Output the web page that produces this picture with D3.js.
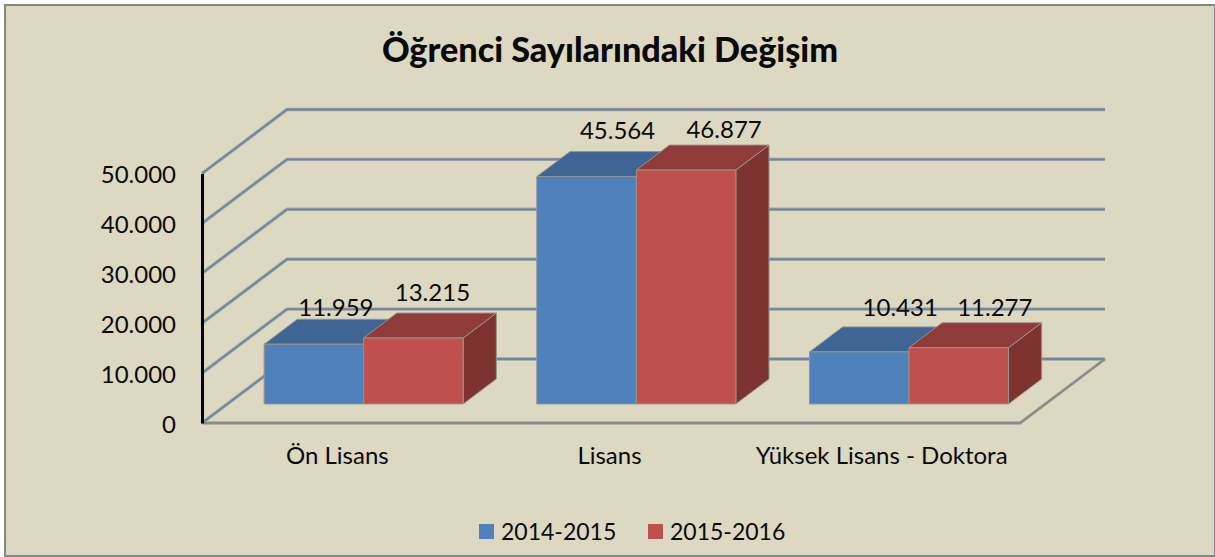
<!DOCTYPE html>
<html lang="tr">
<head>
  <meta charset="UTF-8">
  <title>Öğrenci Sayılarındaki Değişim</title>
  <script src="https://d3js.org/d3.v7.min.js"></script>
  <style>
    body {
      background: #fff;
      margin: 0;
    }
    svg {
      display: block;
    }
    text {
      font-family: Lato, 'Noto Sans', sans-serif;
      fill: #0a0a0a;
    }
  </style>
</head>
<body>
  <script>
    var categories = ["Ön Lisans", "Lisans", "Yüksek Lisans - Doktora"];
    var seriesNames = ["2014-2015", "2015-2016"];
    var values2014 = [11959, 45564, 10431];
    var values2015 = [13215, 46877, 11277];
    var yTicks = [0, 10000, 20000, 30000, 40000, 50000];

    // the value labels were placed by hand in the original, so each one gets a nudge
    var labelNudge = [
      [[22, -37], [19, -45]],
      [[31, -46], [38, -40]],
      [[41, -44], [36, -40]]
    ];
    var catNudge = [-1, -1.5, -2];

    var width = 1215, height = 557;

    var colors = [
      { front: "#4f81bd", top: "#3e6594", side: "#335479" },
      { front: "#c0504d", top: "#8f3b39", side: "#7f3331" }
    ];

    var fmt = d3.formatLocale({ decimal: ",", thousands: ".", grouping: [3], currency: ["", ""] }).format(",");

    var x0 = d3.scaleBand().domain(categories).range([202, 1020]).paddingInner(0.27).paddingOuter(0.135);
    var x1 = d3.scaleBand().domain(seriesNames).range([0, x0.bandwidth()]);
    var y = d3.scaleLinear().domain([0, 50000]).range([423, 173.5]);

    // depth of the 3D box: 0 is the front edge of the floor, 1 the back wall
    var depthX = d3.scaleLinear().domain([0, 1]).range([0, 85]);
    var depthY = d3.scaleLinear().domain([0, 1]).range([0, -64]);
    var barFront = 0.298, barBack = 0.688;

    function pt(px, py, d) {
      return [px + depthX(d), py + depthY(d)];
    }

    var line = d3.line();

    var svg = d3.select("body").append("svg")
      .attr("width", width)
      .attr("height", height);

    svg.append("rect")
      .attr("x", 5).attr("y", 5)
      .attr("width", width - 5).attr("height", height - 6)
      .attr("fill", "#ddd8c2")
      .attr("stroke", "#868686")
      .attr("stroke-width", 2);

    svg.append("text")
      .text("Öğrenci Sayılarındaki Değişim")
      .attr("x", 610).attr("y", 62)
      .attr("text-anchor", "middle")
      .attr("font-size", 34.2)
      .attr("font-weight", 900);

    // grid on the back wall and left wall, a grey halo under a blue line
    var gridPath = function(d) {
      return line([pt(x0.range()[0], y(d), 0), pt(x0.range()[0], y(d), 1), pt(x0.range()[1], y(d), 1)]);
    };
    svg.append("g").selectAll("path")
      .data(yTicks)
      .enter()
      .append("path")
      .attr("d", gridPath)
      .attr("fill", "none")
      .attr("stroke", "#a2a59f")
      .attr("stroke-width", 3.4);
    svg.append("g").selectAll("path")
      .data(yTicks)
      .enter()
      .append("path")
      .attr("d", gridPath)
      .attr("fill", "none")
      .attr("stroke", "#6c86a6")
      .attr("stroke-width", 1.8);

    // floor front and right edge
    svg.append("path")
      .attr("d", line([pt(202, y(0), 0), pt(1020, y(0), 0), pt(1020, y(0), 1)]))
      .attr("fill", "none")
      .attr("stroke", "#8c8c86")
      .attr("stroke-width", 2.8);

    // y axis
    var axis = svg.append("g")
      .attr("transform", "translate(202,0)")
      .call(d3.axisLeft(y).tickValues(yTicks).tickFormat(fmt).tickSize(0).tickPadding(26));
    axis.select(".domain")
      .attr("stroke", "#000")
      .attr("stroke-width", 3);
    axis.selectAll("text")
      .attr("font-size", 24)
      .attr("font-family", "Lato")
      .attr("dy", "0.38em");

    // bars
    var rows = [];
    categories.forEach(function(c, i) {
      seriesNames.forEach(function(s, j) {
        rows.push({ cat: c, i: i, series: s, j: j, value: (j === 0 ? values2014 : values2015)[i] });
      });
    });

    var bar = svg.selectAll(".bar")
      .data(rows)
      .enter()
      .append("g")
      .classed("bar", true);

    function face(sel, name, corners) {
      sel.append("path")
        .attr("d", function(d) {
          var l = x0(d.cat) + x1(d.series);
          var r = l + x1.bandwidth();
          return line(corners(l, r, y(d.value), y(0))) + "Z";
        })
        .attr("fill", function(d) { return colors[d.j][name]; })
        .attr("stroke", "#96948a")
        .attr("stroke-width", 1);
    }

    face(bar, "side", function(l, r, t, b) {
      return [pt(r, t, barFront), pt(r, t, barBack), pt(r, b, barBack), pt(r, b, barFront)];
    });
    face(bar, "top", function(l, r, t, b) {
      return [pt(l, t, barFront), pt(l, t, barBack), pt(r, t, barBack), pt(r, t, barFront)];
    });
    face(bar, "front", function(l, r, t, b) {
      return [pt(l, t, barFront), pt(r, t, barFront), pt(r, b, barFront), pt(l, b, barFront)];
    });

    // value labels
    svg.selectAll(".value")
      .data(rows)
      .enter()
      .append("text")
      .classed("value", true)
      .text(function(d) { return fmt(d.value); })
      .attr("x", function(d) {
        return pt(x0(d.cat) + x1(d.series) + x1.bandwidth() / 2, 0, barFront)[0] + labelNudge[d.i][d.j][0];
      })
      .attr("y", function(d) {
        return pt(0, y(d.value), barFront)[1] + labelNudge[d.i][d.j][1];
      })
      .attr("dy", "0.35em")
      .attr("text-anchor", "middle")
      .attr("font-size", 24);

    // category labels
    svg.selectAll(".cat")
      .data(categories)
      .enter()
      .append("text")
      .classed("cat", true)
      .text(function(d) { return d; })
      .attr("x", function(d, i) { return x0(d) + x0.bandwidth() / 2 + catNudge[i]; })
      .attr("y", 456)
      .attr("dy", "0.35em")
      .attr("text-anchor", "middle")
      .attr("font-size", 24);

    // legend
    var legendX = d3.scaleOrdinal().domain(seriesNames).range([479, 648]);
    var legend = svg.selectAll(".legend")
      .data(seriesNames)
      .enter()
      .append("g")
      .classed("legend", true)
      .attr("transform", function(d) { return "translate(" + legendX(d) + ",524)"; });

    legend.append("rect")
      .attr("width", 15)
      .attr("height", 15)
      .attr("fill", function(d, i) { return colors[i].front; });

    legend.append("text")
      .text(function(d) { return d; })
      .attr("x", 22)
      .attr("y", 7.5)
      .attr("dy", "0.35em")
      .attr("font-size", 23);
  </script>
</body>
</html>
